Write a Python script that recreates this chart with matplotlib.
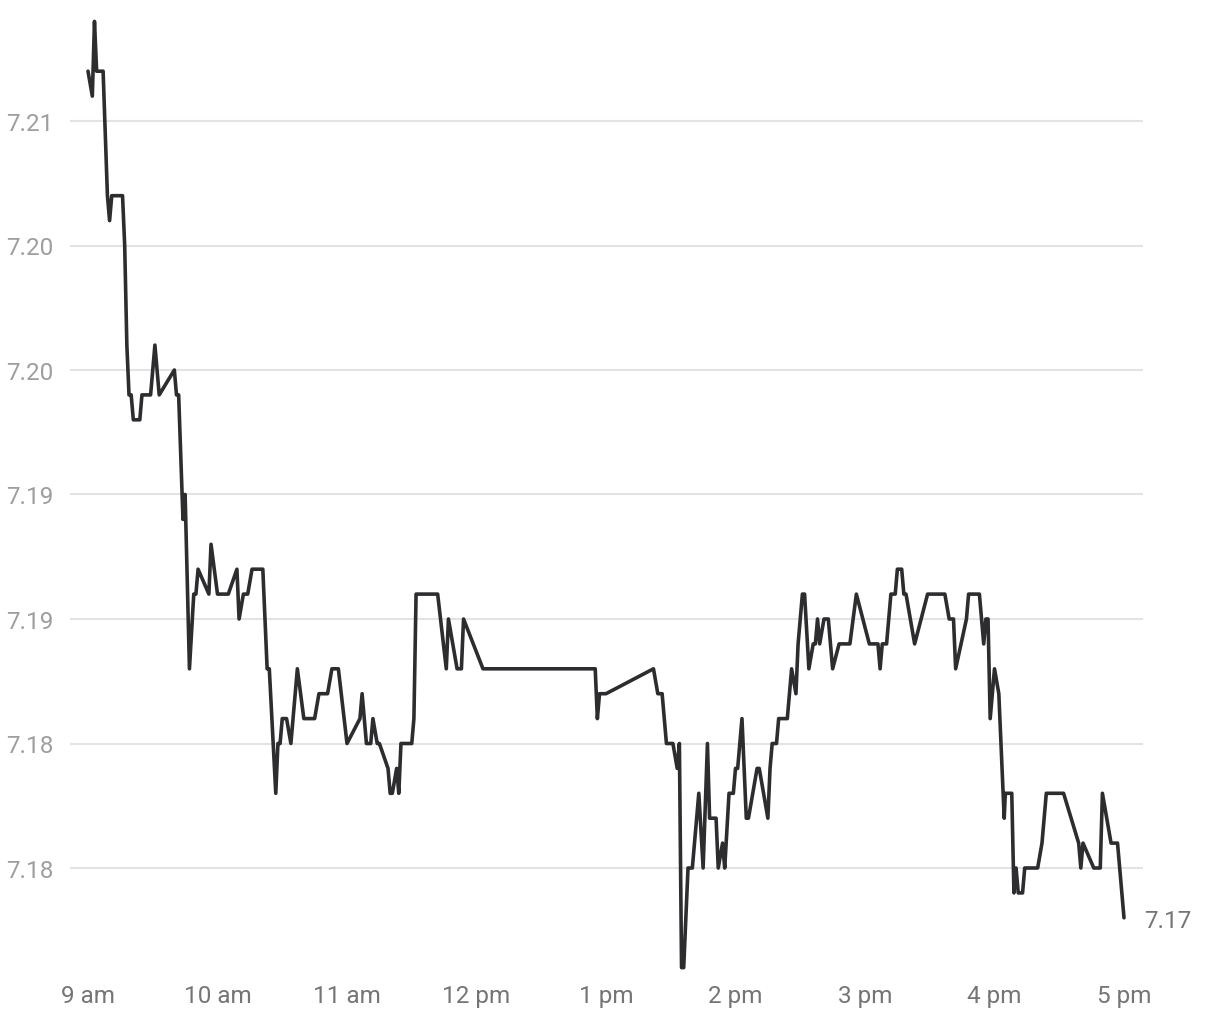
import math
import matplotlib
matplotlib.use("Agg")
import matplotlib.pyplot as plt
from matplotlib.ticker import FuncFormatter

plt.rcParams['font.family'] = ['Roboto', 'DejaVu Sans']

# minutes after 9:00 am
minutes = [0, 2, 3, 4, 7, 9, 10, 11, 16, 17, 18, 19, 20, 21, 24, 25, 29, 31, 33, 40,
           41, 42, 44, 45, 47, 49, 50, 51, 56, 57, 60, 65, 69, 70, 72, 74, 76, 81, 83, 84,
           87, 88, 89, 90, 92, 94, 97, 100, 105, 107, 111, 113, 116, 120, 126, 127, 129, 131, 132, 134,
           135, 139, 140, 141, 143, 144, 145, 150, 151, 152, 162, 166, 167, 171, 173, 174, 183, 235, 236, 237,
           240, 262, 264, 266, 268, 271, 273, 274, 275, 276, 278, 280, 283, 285, 287, 288, 291, 292, 294, 295,
           297, 299, 300, 301, 303, 305, 306, 310, 311, 315, 316, 317, 319, 320, 324, 326, 328, 329, 331, 332,
           334, 336, 337, 338, 339, 341, 343, 345, 348, 353, 356, 362, 366, 367, 368, 370, 372, 374, 375, 377,
           378, 379, 383, 389, 397, 399, 401, 402, 407, 408, 413, 415, 416, 417, 418, 420, 422, 424, 424.5, 425,
           428, 429, 430, 431, 433, 434, 440, 442, 444, 452, 459, 460, 461, 466, 469, 470, 474, 477, 480]

prices = [7.212, 7.211, 7.214, 7.212, 7.212, 7.207, 7.206, 7.207, 7.207, 7.205, 7.201, 7.199, 7.199, 7.198, 7.198, 7.199, 7.199, 7.201, 7.199, 7.200,
          7.199, 7.199, 7.194, 7.195, 7.188, 7.191, 7.191, 7.192, 7.191, 7.193, 7.191, 7.191, 7.192, 7.190, 7.191, 7.191, 7.192, 7.192, 7.188, 7.188,
          7.183, 7.185, 7.185, 7.186, 7.186, 7.185, 7.188, 7.186, 7.186, 7.187, 7.187, 7.188, 7.188, 7.185, 7.186, 7.187, 7.185, 7.185, 7.186, 7.185,
          7.185, 7.184, 7.183, 7.183, 7.184, 7.183, 7.185, 7.185, 7.186, 7.191, 7.191, 7.188, 7.190, 7.188, 7.188, 7.190, 7.188, 7.188, 7.186, 7.187,
          7.187, 7.188, 7.187, 7.187, 7.185, 7.185, 7.184, 7.185, 7.176, 7.176, 7.180, 7.180, 7.183, 7.180, 7.185, 7.182, 7.182, 7.180, 7.181, 7.180,
          7.183, 7.183, 7.184, 7.184, 7.186, 7.182, 7.182, 7.184, 7.184, 7.182, 7.184, 7.185, 7.185, 7.186, 7.186, 7.188, 7.187, 7.189, 7.191, 7.191,
          7.188, 7.189, 7.189, 7.190, 7.189, 7.190, 7.190, 7.188, 7.189, 7.189, 7.191, 7.189, 7.189, 7.188, 7.189, 7.189, 7.191, 7.191, 7.192, 7.192,
          7.191, 7.191, 7.189, 7.191, 7.191, 7.190, 7.190, 7.188, 7.190, 7.191, 7.191, 7.189, 7.190, 7.190, 7.186, 7.188, 7.187, 7.183, 7.182, 7.183,
          7.183, 7.179, 7.180, 7.179, 7.179, 7.180, 7.180, 7.181, 7.183, 7.183, 7.181, 7.180, 7.181, 7.180, 7.180, 7.183, 7.181, 7.181, 7.178]

y_ticks = [7.18, 7.185, 7.19, 7.195, 7.20, 7.205, 7.21]
x_hours = [9, 10, 11, 12, 13, 14, 15, 16, 17]
x_labels = ['9 am', '10 am', '11 am', '12 pm', '1 pm', '2 pm', '3 pm', '4 pm', '5 pm']


def trunc2(v, pos=None):
    # labels are cut, not rounded, to two decimals
    return f"{math.floor(v * 100 + 1e-6) / 100:.2f}"


hours = [9 + m / 60 for m in minutes]

fig = plt.figure(figsize=(12.2, 10.2), dpi=100)
ax = fig.add_axes([70 / 1220, 40 / 1020, 1073 / 1220, 970 / 1020])

ax.plot(hours, prices, color='#2d2d30', linewidth=2.6, solid_joinstyle='round',
        solid_capstyle='round', zorder=3)

ax.set_xlim(9 - 18 / 129.5, 17 + 19 / 129.5)
ax.set_ylim(7.18 - 111 / 24.9 * 0.001, 7.21 + 112 / 24.9 * 0.001)

ax.set_yticks(y_ticks)
ax.yaxis.set_major_formatter(FuncFormatter(trunc2))
ax.yaxis.grid(True, color='#e3e3e3', linewidth=1.5)
ax.tick_params(axis='y', length=0, pad=12, labelsize=17.5, labelcolor='#9e9e9e')

ax.set_xticks([])
for h, lab in zip(x_hours, x_labels):
    ax.text(h, -0.017, lab, transform=ax.get_xaxis_transform(),
            ha='center', va='center', fontsize=17.5, color='#757575')

# last value label
ax.text(hours[-1] + 20 / 129.5, prices[-1] - 0.0001, trunc2(prices[-1]), ha='left', va='center',
        fontsize=17.5, color='#757575')

for s in ax.spines.values():
    s.set_visible(False)

fig.savefig('out.png', dpi=100)
